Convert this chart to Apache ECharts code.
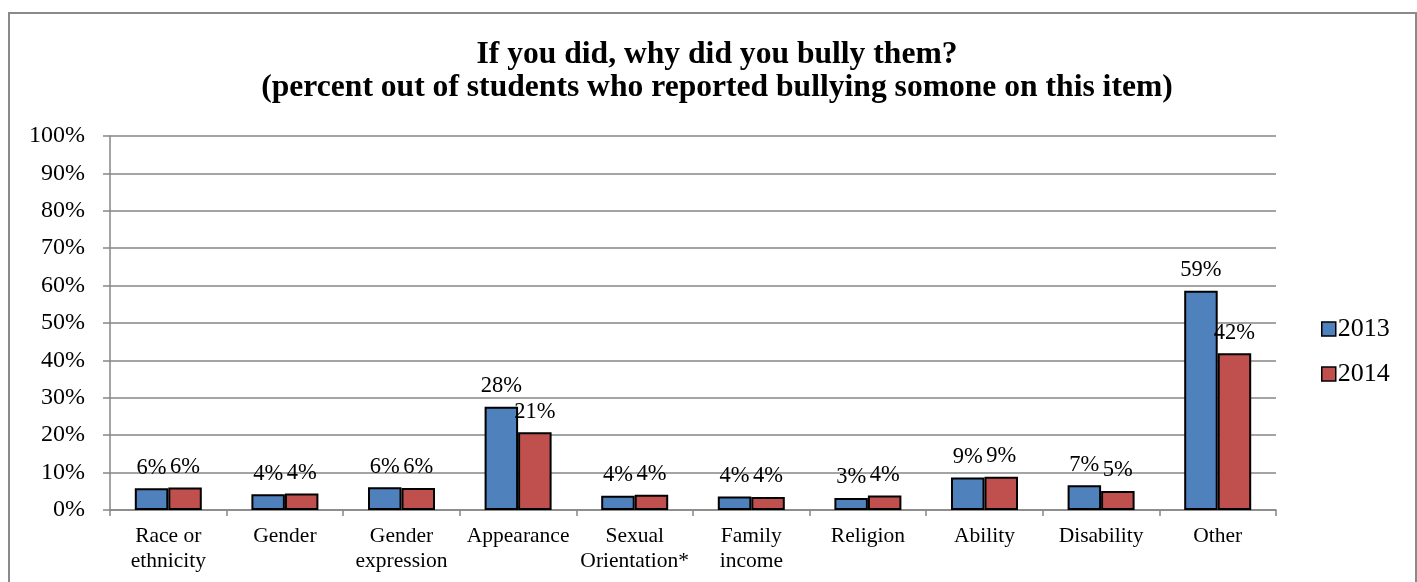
<!DOCTYPE html>
<html>
<head>
<meta charset="utf-8">
<script src="https://cdn.jsdelivr.net/npm/echarts@6/dist/echarts.min.js"></script>
<style>
  html, body { margin: 0; padding: 0; background: #fff; }
  #chart { width: 1417px; height: 582px; }
</style>
</head>
<body>
<div id="chart"></div>
<script>
// Reasons students gave for bullying someone, by survey year (percent)
const categories = [
  'Race or\nethnicity', 'Gender', 'Gender\nexpression', 'Appearance',
  'Sexual\nOrientation*', 'Family\nincome', 'Religion', 'Ability',
  'Disability', 'Other'
];
const values2013 = [5.8, 4.2, 6.1, 27.6, 3.8, 3.6, 3.2, 8.7, 6.6, 58.6];
const values2014 = [6.0, 4.4, 5.9, 20.8, 4.1, 3.5, 3.9, 8.9, 5.1, 41.9];
const seriesNames = ['2013', '2014'];
const yTicks = { min: 0, max: 100, interval: 10 };

const serif = "'Liberation Serif', 'Times New Roman', serif";
const gridGray = '#868686';

const chart = echarts.init(document.getElementById('chart'), null, { renderer: 'canvas' });

function barSeries(name, data, color) {
  return {
    name: name,
    type: 'bar',
    data: data,
    barWidth: 33.5,
    barGap: '0%',
    itemStyle: { color: color, borderColor: '#000', borderWidth: 2 },
    label: {
      show: true,
      position: 'top',
      distance: 9,
      fontFamily: serif,
      fontSize: 22.5,
      color: '#000',
      formatter: p => Math.round(p.value) + '%'
    }
  };
}

chart.setOption({
  animation: false,
  backgroundColor: '#fff',
  graphic: [{
    type: 'rect',
    shape: { x: 9, y: 13, width: 1407, height: 620 },
    style: { fill: 'none', stroke: '#8a8a8a', lineWidth: 2 },
    silent: true
  }],
  title: {
    text: 'If you did, why did you bully them?\n(percent out of students who reported bullying somone on this item)',
    left: 712,
    textAlign: 'center',
    top: 33,
    textStyle: {
      fontFamily: serif,
      fontWeight: 'bold',
      fontSize: 31.6,
      lineHeight: 33.4,
      color: '#000'
    }
  },
  legend: {
    orient: 'vertical',
    left: 1316,
    top: 311,
    itemWidth: 14,
    itemHeight: 14,
    itemGap: 19,
    icon: 'rect',
    textStyle: { fontFamily: serif, fontSize: 26, color: '#000', padding: [0, 0, 0, -3] },
    itemStyle: { borderColor: '#000', borderWidth: 1.5 },
    data: seriesNames
  },
  grid: { left: 110, right: 141, top: 136, bottom: 72 },
  xAxis: {
    type: 'category',
    data: categories,
    boundaryGap: true,
    axisLine: { lineStyle: { color: gridGray, width: 1.5 } },
    axisTick: { show: true, length: 6, lineStyle: { color: gridGray, width: 1.5 } },
    axisLabel: {
      interval: 0,
      margin: 14,
      fontFamily: serif,
      fontSize: 21.5,
      lineHeight: 25,
      color: '#000'
    }
  },
  yAxis: {
    type: 'value',
    min: yTicks.min,
    max: yTicks.max,
    interval: yTicks.interval,
    axisLine: { show: true, lineStyle: { color: gridGray, width: 1.5 } },
    axisTick: { show: true, length: 7, lineStyle: { color: gridGray, width: 1.5 } },
    splitLine: { lineStyle: { color: gridGray, width: 1.5 } },
    axisLabel: {
      margin: 25,
      fontFamily: serif,
      fontSize: 24,
      color: '#000',
      formatter: '{value}%'
    }
  },
  series: [
    barSeries(seriesNames[0], values2013, '#4F81BD'),
    barSeries(seriesNames[1], values2014, '#C0504D')
  ]
});
</script>
</body>
</html>
